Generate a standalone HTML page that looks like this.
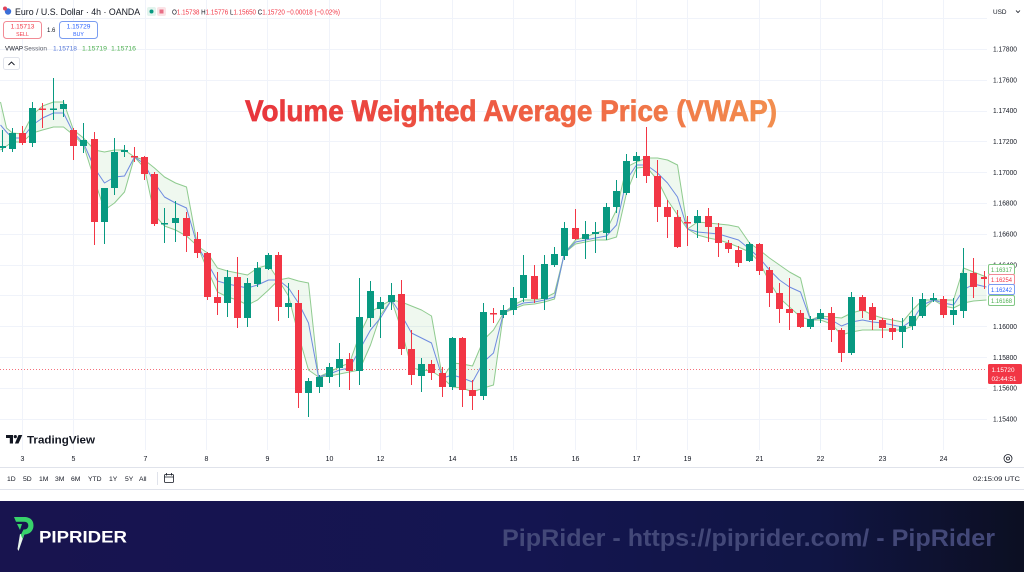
<!DOCTYPE html>
<html><head><meta charset="utf-8">
<style>
html,body{margin:0;padding:0;background:#fff;}
body{width:1024px;height:572px;overflow:hidden;}
svg{display:block;}
text{font-family:"Liberation Sans",sans-serif;}
</style></head>
<body>
<svg width="1024" height="572" viewBox="0 0 1024 572" xmlns="http://www.w3.org/2000/svg">
<defs>
<linearGradient id="tg" x1="245" x2="777" y1="0" y2="0" gradientUnits="userSpaceOnUse">
<stop offset="0" stop-color="#e8343c"/><stop offset="0.55" stop-color="#ef6244"/><stop offset="1" stop-color="#f28e4e"/>
</linearGradient>
<linearGradient id="fg" x1="0" x2="1" y1="0" y2="0">
<stop offset="0" stop-color="#18144f"/><stop offset="0.5" stop-color="#141551"/><stop offset="0.8" stop-color="#101543"/><stop offset="1" stop-color="#0c0f22"/>
</linearGradient>
<clipPath id="cc"><rect x="0" y="0" width="987" height="450"/></clipPath>
<mask id="bm" maskUnits="userSpaceOnUse" x="-10" y="0" width="1040" height="500">
<polygon fill="#fff" points="0,102 6,128 12,133 22,134 32,115 42,106 53,102 63,102 73,130 83,138 94,150 104,152 114,150 124,150 134,157 144,160 154,168 164,177 175,183 186,187 197,246 207,253 217,268 227,271 237,273 247,275 257,268 268,265 278,280 288,278 298,281 308,283 318,377 329,372 339,367 349,363 359,335 370,312 380,306 391,300 401,302 411,306 421,310 431,316 442,378 452,363 462,364 472,366 483,340 493,330 503,313 513,305 523,300 534,300 544,298 554,293 564,253 575,240 585,237 595,233 606,230 616,210 626,167 636,162 646,158 657,158 667,160 677,165 687,229 697,222 708,223 718,224 728,225 738,227 749,243 759,250 769,258 779,265 789,272 800,278 810,320 820,316 831,317 841,318 851,313 862,310 872,315 882,318 892,320 902,322 912,310 922,300 933,300 943,300 953,300 963,268 973,272 986,277 986,460 0,460"/>
<polygon fill="#000" points="0,150 6,146 12,142 22,142 32,133 42,130 53,127 63,127 73,135 83,145 94,180 104,210 114,203 124,192 134,157 144,168 154,215 164,226 175,230 186,236 197,246 207,270 217,292 227,297 237,300 247,305 257,300 268,290 278,280 288,296 298,335 308,370 318,377 329,376 339,374 349,372 359,370 370,345 380,315 391,300 401,330 411,368 421,370 431,371 442,378 452,387 462,388 472,392 483,388 493,385 503,313 513,309 523,305 534,304 544,302 554,299 564,253 575,244 585,242 595,240 606,240 616,237 626,193 636,168 646,167 657,180 667,200 677,215 687,229 697,235 708,238 718,240 728,243 738,247 749,252 759,262 769,282 779,298 789,307 800,317 810,320 820,320 831,324 841,335 851,332 862,330 872,330 882,330 892,330 902,330 912,326 922,310 933,300 943,306 953,308 963,303 973,301 986,300 986,460 0,460"/>
</mask>
</defs>

<!-- grid -->
<g stroke="#f0f3fa" stroke-width="1">
<path d="M0 18.5H987M0 49.5H987M0 80.5H987M0 111.5H987M0 141.5H987M0 172.5H987M0 203.5H987M0 234.5H987M0 265.5H987M0 295.5H987M0 326.5H987M0 357.5H987M0 388.5H987M0 419.5H987"/>
<path d="M22.5 0V450M73.5 0V450M145.5 0V450M206.5 0V450M267.5 0V450M329.5 0V450M380.5 0V450M452.5 0V450M513.5 0V450M575.5 0V450M636.5 0V450M687.5 0V450M759.5 0V450M820.5 0V450M882.5 0V450M943.5 0V450"/>
</g>

<!-- title -->
<text x="245" y="121" font-size="30" font-weight="bold" textLength="532" lengthAdjust="spacingAndGlyphs" fill="url(#tg)" stroke="url(#tg)" stroke-width="0.7">Volume Weighted Average Price (VWAP)</text>

<g clip-path="url(#cc)">
<!-- current price dotted line -->
<path d="M0 369.5H987" stroke="#f23645" stroke-width="1" stroke-dasharray="1 2" opacity="0.7"/>
<!-- VWAP bands -->
<g transform="translate(0.5,0)">
<rect x="-10" y="0" width="1040" height="460" fill="#4caf50" fill-opacity="0.09" mask="url(#bm)"/>
<g fill="none" stroke-width="1" stroke-linejoin="round">
<polyline stroke="#8fcb8f" points="0,102 6,128 12,133 22,134 32,115 42,106 53,102 63,102 73,130 83,138 94,150 104,152 114,150 124,150 134,157 144,160 154,168 164,177 175,183 186,187 197,246 207,253 217,268 227,271 237,273 247,275 257,268 268,265 278,280 288,278 298,281 308,283 318,377 329,372 339,367 349,363 359,335 370,312 380,306 391,300 401,302 411,306 421,310 431,316 442,378 452,363 462,364 472,366 483,340 493,330 503,313 513,305 523,300 534,300 544,298 554,293 564,253 575,240 585,237 595,233 606,230 616,210 626,167 636,162 646,158 657,158 667,160 677,165 687,229 697,222 708,223 718,224 728,225 738,227 749,243 759,250 769,258 779,265 789,272 800,278 810,320 820,316 831,317 841,318 851,313 862,310 872,315 882,318 892,320 902,322 912,310 922,300 933,300 943,300 953,300 963,268 973,272 986,277"/>
<polyline stroke="#8fcb8f" points="0,150 6,146 12,142 22,142 32,133 42,130 53,127 63,127 73,135 83,145 94,180 104,210 114,203 124,192 134,157 144,168 154,215 164,226 175,230 186,236 197,246 207,270 217,292 227,297 237,300 247,305 257,300 268,290 278,280 288,296 298,335 308,370 318,377 329,376 339,374 349,372 359,370 370,345 380,315 391,300 401,330 411,368 421,370 431,371 442,378 452,387 462,388 472,392 483,388 493,385 503,313 513,309 523,305 534,304 544,302 554,299 564,253 575,244 585,242 595,240 606,240 616,237 626,193 636,168 646,167 657,180 667,200 677,215 687,229 697,235 708,238 718,240 728,243 738,247 749,252 759,262 769,282 779,298 789,307 800,317 810,320 820,320 831,324 841,335 851,332 862,330 872,330 882,330 892,330 902,330 912,326 922,310 933,300 943,306 953,308 963,303 973,301 986,300"/>
<polyline stroke="#6f8be0" points="0,125 6,132 12,138 22,138 32,125 42,118 53,113 63,113 73,133 83,143 94,168 104,183 114,177 124,176 134,157 144,164 154,183 164,197 175,203 186,208 197,246 207,263 217,281 227,284 237,286 247,288 257,285 268,280 278,280 288,288 298,303 308,323 318,377 329,374 339,370 349,368 359,350 370,330 380,318 391,300 401,315 411,333 421,338 431,343 442,378 452,375 462,378 472,382 483,362 493,353 503,313 513,307 523,303 534,302 544,300 554,297 564,253 575,242 585,240 595,238 606,236 616,225 626,180 636,165 646,165 657,173 667,183 677,197 687,229 697,232 708,233 718,234 728,237 738,240 749,249 759,258 769,270 779,280 789,287 800,292 810,320 820,318 831,320 841,326 851,322 862,320 872,322 882,323 892,325 902,327 912,320 922,305 933,300 943,303 953,305 963,290 973,284 986,287"/>
</g>
</g>
<!-- candles green -->
<path stroke="#089981" stroke-width="1" fill="none" d="M2.5 130V152M12.5 128V152M32.5 102V147M53.5 78V120M63.5 100V117M83.5 123V153M104.5 188V244M114.5 138V195M124.5 145V157M164.5 208V243M175.5 201V242M227.5 270V317M247.5 278V327M257.5 262V287M268.5 253V270M288.5 283V318M308.5 378V417M319.5 375V393M329.5 363V383M339.5 343V387M359.5 278V385M370.5 281V327M380.5 297V338M391.5 283V310M421.5 358V392M452.5 337V390M483.5 303V400M503.5 305V318M513.5 287V315M523.5 255V302M544.5 255V310M554.5 247V267M564.5 222V260M585.5 221V259M595.5 222V253M606.5 203V240M616.5 180V213M626.5 154V195M636.5 152V178M697.5 210V238M749.5 242V262M810.5 316V329M820.5 309V323M851.5 292V355M902.5 318V348M912.5 297V330M922.5 293V318M933.5 293V302M953.5 298V325M963.5 248V318"/>
<path fill="#089981" d="M-1 146h7V148h-7ZM9 133h7V149h-7ZM29 108h7V143h-7ZM50 108.5h7V110h-7ZM60 104h7V109h-7ZM80 140h7V146h-7ZM101 188h7V222h-7ZM111 152h7V188h-7ZM121 150h7V152h-7ZM161 223h7V224.5h-7ZM172 218h7V223h-7ZM224 277h7V303h-7ZM244 283h7V318h-7ZM254 268h7V284h-7ZM265 255h7V269h-7ZM285 303h7V307h-7ZM305 381h7V393h-7ZM316 377h7V387h-7ZM326 367h7V377h-7ZM336 359h7V368h-7ZM356 317h7V371h-7ZM367 291h7V318h-7ZM377 302h7V309h-7ZM388 295h7V302h-7ZM418 364h7V376h-7ZM449 338h7V387h-7ZM480 312h7V396h-7ZM500 310h7V315h-7ZM510 298h7V310h-7ZM520 275h7V298h-7ZM541 264h7V299h-7ZM551 254h7V265h-7ZM561 228h7V256h-7ZM582 234h7V239h-7ZM592 232h7V234h-7ZM603 207h7V233h-7ZM613 191h7V207h-7ZM623 161h7V193h-7ZM633 156h7V161h-7ZM694 216h7V223h-7ZM746 244h7V261h-7ZM807 319h7V327h-7ZM817 313h7V319h-7ZM848 297h7V353h-7ZM899 326h7V332h-7ZM909 316h7V326h-7ZM919 299h7V316h-7ZM930 298h7V300h-7ZM950 310h7V315h-7ZM960 273h7V311h-7Z"/>
<!-- candles red -->
<path stroke="#f23645" stroke-width="1" fill="none" d="M22.5 126V145M42.5 103V128M73.5 128V160M94.5 132V245M134.5 147V162M144.5 156V180M154.5 172V226M186.5 212V252M197.5 232V258M207.5 252V300M217.5 272V315M237.5 257V328M278.5 252V321M298.5 290V408M349.5 353V390M401.5 280V355M411.5 330V385M431.5 360V380M442.5 367V397M462.5 337V407M472.5 380V410M493.5 308V323M534.5 265V303M575.5 209V240M646.5 127V183M657.5 160V222M667.5 200V238M677.5 210V248M687.5 216V246M708.5 208V242M718.5 223V257M728.5 240V253M738.5 246V267M759.5 243V275M769.5 267V307M779.5 283V323M789.5 278V330M800.5 310V328M831.5 307V342M841.5 328V362M862.5 295V318M872.5 303V330M882.5 318V338M892.5 318V340M943.5 296V318M973.5 258V298M984.5 271V289"/>
<path fill="#f23645" d="M19 133h7V143h-7ZM39 108.5h7V110h-7ZM70 130h7V146h-7ZM91 139h7V222h-7ZM131 156h7V157.5h-7ZM141 157h7V174h-7ZM151 174h7V224h-7ZM183 218h7V236h-7ZM194 239h7V253h-7ZM204 253h7V297h-7ZM214 297h7V303h-7ZM234 277h7V318h-7ZM275 255h7V307h-7ZM295 303h7V393h-7ZM346 359h7V371h-7ZM398 294h7V349h-7ZM408 349h7V375h-7ZM428 364h7V373h-7ZM439 373h7V387h-7ZM459 338h7V390h-7ZM469 390h7V396h-7ZM490 313h7V314.5h-7ZM531 276h7V299h-7ZM572 228h7V239h-7ZM643 156h7V176h-7ZM654 176h7V207h-7ZM664 207h7V217h-7ZM674 217h7V247h-7ZM684 222h7V223.5h-7ZM705 216h7V227h-7ZM715 227h7V243h-7ZM725 243h7V249h-7ZM735 250h7V263h-7ZM756 244h7V271h-7ZM766 270h7V293h-7ZM776 293h7V309h-7ZM786 309h7V313h-7ZM797 313h7V327h-7ZM828 313h7V330h-7ZM838 330h7V353h-7ZM859 297h7V311h-7ZM869 307h7V320h-7ZM879 320h7V328h-7ZM889 328h7V332h-7ZM940 299h7V315h-7ZM970 273h7V287h-7ZM981 277h7V279h-7Z"/>
</g>

<!-- header legend -->
<circle cx="8" cy="11.5" r="3.2" fill="#3a6fd8"/><circle cx="5" cy="8.5" r="2" fill="#e0435a"/>
<text x="15" y="15" font-size="8.8" fill="#131722">Euro / U.S. Dollar · 4h · OANDA</text>
<rect x="147" y="7" width="9" height="9" rx="2" fill="#e3f4ee"/><circle cx="151.5" cy="11.5" r="2" fill="#089981"/>
<rect x="157" y="7" width="9" height="9" rx="2" fill="#fbe3e6"/><rect x="159.5" y="9.5" width="4" height="4" fill="#e86f86"/>
<text x="172" y="14.5" font-size="7.6" textLength="168" lengthAdjust="spacingAndGlyphs"><tspan fill="#131722">O</tspan><tspan fill="#f23645">1.15738 </tspan><tspan fill="#131722">H</tspan><tspan fill="#f23645">1.15776 </tspan><tspan fill="#131722">L</tspan><tspan fill="#f23645">1.15650 </tspan><tspan fill="#131722">C</tspan><tspan fill="#f23645">1.15720 −0.00018 (−0.02%)</tspan></text>

<rect x="3.5" y="21.5" width="38" height="17" rx="3" fill="#fff" stroke="#f28b95"/>
<text x="22.5" y="28.6" font-size="6.6" fill="#f23645" text-anchor="middle">1.15713</text>
<text x="22.5" y="35.8" font-size="5.2" fill="#f23645" text-anchor="middle">SELL</text>
<text x="47" y="32" font-size="6" fill="#131722">1.6</text>
<rect x="59.5" y="21.5" width="38" height="17" rx="3" fill="#fff" stroke="#7a9cf0"/>
<text x="78.5" y="28.6" font-size="6.6" fill="#2962ff" text-anchor="middle">1.15729</text>
<text x="78.5" y="35.8" font-size="5.2" fill="#2962ff" text-anchor="middle">BUY</text>

<text x="5" y="50.5" font-size="6.8" fill="#131722" textLength="18" lengthAdjust="spacingAndGlyphs">VWAP</text>
<text x="24" y="50.5" font-size="6.8" fill="#5d606b" textLength="23" lengthAdjust="spacingAndGlyphs">Session</text>
<text x="53" y="50.5" font-size="6.8" fill="#5577d8" textLength="24" lengthAdjust="spacingAndGlyphs">1.15718</text>
<text x="82" y="50.5" font-size="6.8" fill="#4caf50" textLength="25" lengthAdjust="spacingAndGlyphs">1.15719</text>
<text x="111" y="50.5" font-size="6.8" fill="#4caf50" textLength="25" lengthAdjust="spacingAndGlyphs">1.15716</text>
<rect x="3.5" y="57.5" width="16" height="12" rx="2" fill="#fff" stroke="#e0e3eb"/>
<path d="M8.5 65l3-3 3 3" fill="none" stroke="#131722" stroke-width="0.9"/>

<!-- price axis -->
<text x="993" y="14" font-size="6.4" fill="#131722">USD</text>
<path d="M1016 10.5l2 2 2-2" fill="none" stroke="#131722" stroke-width="0.8"/>
<g font-size="7" fill="#131722">
<text x="993" y="51.5" textLength="24" lengthAdjust="spacingAndGlyphs">1.17800</text>
<text x="993" y="82.3" textLength="24" lengthAdjust="spacingAndGlyphs">1.17600</text>
<text x="993" y="113.2" textLength="24" lengthAdjust="spacingAndGlyphs">1.17400</text>
<text x="993" y="144" textLength="24" lengthAdjust="spacingAndGlyphs">1.17200</text>
<text x="993" y="174.8" textLength="24" lengthAdjust="spacingAndGlyphs">1.17000</text>
<text x="993" y="205.7" textLength="24" lengthAdjust="spacingAndGlyphs">1.16800</text>
<text x="993" y="236.5" textLength="24" lengthAdjust="spacingAndGlyphs">1.16600</text>
<text x="993" y="267.3" textLength="24" lengthAdjust="spacingAndGlyphs">1.16400</text>
<text x="993" y="329" textLength="24" lengthAdjust="spacingAndGlyphs">1.16000</text>
<text x="993" y="359.8" textLength="24" lengthAdjust="spacingAndGlyphs">1.15800</text>
<text x="993" y="390.6" textLength="24" lengthAdjust="spacingAndGlyphs">1.15600</text>
<text x="993" y="421.5" textLength="24" lengthAdjust="spacingAndGlyphs">1.15400</text>
</g>
<g font-size="6.8">
<rect x="988.5" y="264.5" width="26" height="10" rx="1.5" fill="#fff" stroke="#81c784"/>
<text x="991" y="272" fill="#4caf50" textLength="21" lengthAdjust="spacingAndGlyphs">1.16317</text>
<rect x="988.5" y="274.5" width="26" height="10" rx="1.5" fill="#fff" stroke="#f28b95"/>
<text x="991" y="282" fill="#f23645" textLength="21" lengthAdjust="spacingAndGlyphs">1.16254</text>
<rect x="988.5" y="284.5" width="26" height="10" rx="1.5" fill="#fff" stroke="#7a9cf0"/>
<text x="991" y="292" fill="#2962ff" textLength="21" lengthAdjust="spacingAndGlyphs">1.16242</text>
<rect x="988.5" y="295.5" width="26" height="10" rx="1.5" fill="#fff" stroke="#81c784"/>
<text x="991" y="303" fill="#4caf50" textLength="21" lengthAdjust="spacingAndGlyphs">1.16168</text>
<rect x="988" y="364" width="34" height="20" rx="1.5" fill="#f23645"/>
<text x="991.5" y="372" fill="#fff" textLength="23" lengthAdjust="spacingAndGlyphs">1.15720</text>
<text x="991.5" y="381" fill="#fff" textLength="25" lengthAdjust="spacingAndGlyphs">02:44:51</text>
</g>

<!-- TradingView logo -->
<path d="M6 435h7v8.5h-3.2v-5.5H6z" fill="#131722"/>
<circle cx="15.3" cy="436.6" r="1.6" fill="#131722"/>
<path d="M18.5 435h3.8l-3.8 8.5h-3.6z" fill="#131722"/>
<text x="27" y="443.5" font-size="11" font-weight="bold" fill="#131722" textLength="68" lengthAdjust="spacingAndGlyphs">TradingView</text>

<!-- time axis -->
<g font-size="7" fill="#131722" text-anchor="middle">
<text x="22.5" y="461">3</text><text x="73.5" y="461">5</text><text x="145.5" y="461">7</text><text x="206.5" y="461">8</text>
<text x="267.5" y="461">9</text><text x="329.5" y="461">10</text><text x="380.5" y="461">12</text><text x="452.5" y="461">14</text>
<text x="513.5" y="461">15</text><text x="575.5" y="461">16</text><text x="636.5" y="461">17</text><text x="687.5" y="461">19</text>
<text x="759.5" y="461">21</text><text x="820.5" y="461">22</text><text x="882.5" y="461">23</text><text x="943.5" y="461">24</text>
</g>
<circle cx="1008" cy="458.5" r="4" fill="none" stroke="#131722" stroke-width="0.8"/>
<circle cx="1008" cy="458.5" r="1.5" fill="none" stroke="#131722" stroke-width="0.8"/>
<path d="M0 467.5H1024M0 489.5H1024" stroke="#e0e3eb" stroke-width="1"/>

<!-- bottom toolbar -->
<g font-size="6.8" fill="#131722">
<text x="7" y="481">1D</text><text x="23" y="481">5D</text><text x="39" y="481">1M</text><text x="55" y="481">3M</text>
<text x="71" y="481">6M</text><text x="88" y="481">YTD</text><text x="109" y="481">1Y</text><text x="125" y="481">5Y</text>
<text x="139" y="481">All</text>
<text x="1020" y="481" text-anchor="end" textLength="47" lengthAdjust="spacingAndGlyphs">02:15:09 UTC</text>
</g>
<path d="M157.5 472V485" stroke="#e0e3eb"/>
<rect x="164.5" y="474.5" width="9" height="8" rx="1" fill="none" stroke="#131722" stroke-width="0.8"/>
<path d="M166.5 473v2.5M171.5 473v2.5M164.5 477h9" stroke="#131722" stroke-width="0.8"/>

<!-- footer -->
<rect x="0" y="501" width="1024" height="71" fill="url(#fg)"/>
<path d="M14 517h10c7 0 9.5 4 9.5 8.5 0 5-3.5 9-9.5 9h-3l2.5-5h0.8c2.5 0 4-1.7 4-4s-1.5-3.8-4-3.8H16z" fill="#38d36b"/>
<path d="M17 524h5l-2 6z" fill="#38d36b"/>
<path d="M20 534h4.5l-6 17-1-2z" fill="#e8f5ec"/>
<path d="M20.5 534h4l-2 5z" fill="#38d36b"/>
<text x="39" y="542.5" font-size="16.5" font-weight="bold" fill="#fff" textLength="88" lengthAdjust="spacingAndGlyphs">PIPRIDER</text>
<text x="502" y="546" font-size="24" font-weight="bold" fill="#434878" textLength="493" lengthAdjust="spacingAndGlyphs">PipRider - https://piprider.com/ - PipRider</text>
</svg>
</body></html>
